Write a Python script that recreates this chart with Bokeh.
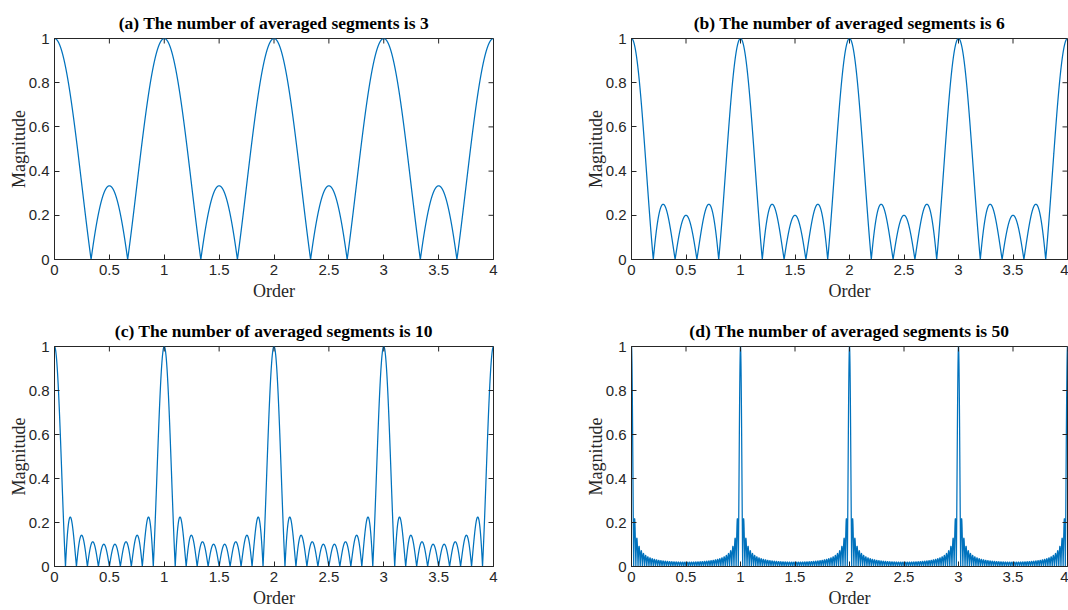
import numpy as np
from bokeh.plotting import figure
from bokeh.layouts import gridplot
from bokeh.models import FixedTicker, Range1d, Title
from bokeh.embed import file_html
from bokeh.resources import INLINE

# ---- data ----
panel_labels = ["(a)", "(b)", "(c)", "(d)"]
segments = [3, 6, 10, 50]          # number in each title
lobe_n = [3, 5, 10, 50]
order_ticks = [0, 0.5, 1, 1.5, 2, 2.5, 3, 3.5, 4]
magnitude_ticks = [0, 0.2, 0.4, 0.6, 0.8, 1]
order_min, order_max = 0, 4
mag_min, mag_max = 0, 1

# order axis sampling
order = np.linspace(order_min, order_max, 16001)


def averaged_magnitude(n, x):
    # magnitude response of averaging n segments (periodic sinc / Dirichlet kernel)
    s = np.sin(np.pi * x)
    num = np.sin(n * np.pi * x)
    with np.errstate(divide="ignore", invalid="ignore"):
        r = np.abs(num / (n * s))
    r[np.isclose(s, 0, atol=1e-12)] = 1.0
    return r


AX = "#262626"
BLUE = "#0072BD"
SERIF = "Liberation Serif"
SANS = "Liberation Sans"
TICK = 5

# per panel frame borders: (left, right, top, bottom)
borders = [
    (54, 41, 38, 46),
    (96, 1, 38, 46),
    (54, 41, 41, 43),
    (97, 1, 41, 43),
]
W, H = 534, 305

figs = []
for i, (lab, n, k) in enumerate(zip(panel_labels, segments, lobe_n)):
    bl, br, bt, bb = borders[i]
    p = figure(width=W, height=H,
               output_backend="svg", toolbar_location=None,
               x_range=Range1d(order_min, order_max), y_range=Range1d(mag_min, mag_max),
               min_border_left=bl, min_border_right=br,
               min_border_top=bt, min_border_bottom=bb,
               x_axis_label="Order", y_axis_label="Magnitude")
    p.title = None
    p.add_layout(Title(text=f"{lab} The number of averaged segments is {n}",
                       text_font=SERIF, text_font_size="17.5px", text_font_style="bold",
                       text_color="black", align="center", standoff=11), "above")
    p.line(order, averaged_magnitude(k, order), line_color=BLUE, line_width=1.25)

    # inward ticks on the top and right edges of the box
    fw = W - bl - br
    fh = H - bt - bb
    dy = TICK / fh * (mag_max - mag_min)
    dx = TICK / fw * (order_max - order_min)
    p.segment(x0=order_ticks, y0=[mag_max] * len(order_ticks),
              x1=order_ticks, y1=[mag_max - dy] * len(order_ticks),
              line_color=AX, line_width=1)
    p.segment(x0=[order_max] * len(magnitude_ticks), y0=magnitude_ticks,
              x1=[order_max - dx] * len(magnitude_ticks), y1=magnitude_ticks,
              line_color=AX, line_width=1)

    p.xgrid.visible = False
    p.ygrid.visible = False
    p.outline_line_color = AX
    p.outline_line_width = 1
    p.background_fill_color = "white"
    p.border_fill_color = "white"

    xa = p.xaxis[0]
    ya = p.yaxis[0]
    xa.ticker = FixedTicker(ticks=order_ticks)
    ya.ticker = FixedTicker(ticks=magnitude_ticks)
    ya.major_label_overrides = {0: "0", 1: "1"}
    xa.major_label_overrides = {0: "0", 1: "1", 2: "2", 3: "3", 4: "4"}
    for ax in (xa, ya):
        ax.axis_line_color = AX
        ax.major_tick_line_color = AX
        ax.major_tick_in = TICK
        ax.major_tick_out = 0
        ax.minor_tick_line_color = None
        ax.major_label_text_font = SANS
        ax.major_label_text_font_size = "15px"
        ax.major_label_text_color = AX
        ax.axis_label_text_font = SERIF
        ax.axis_label_text_font_size = "18px"
        ax.axis_label_text_font_style = "normal"
        ax.axis_label_text_color = AX
        ax.major_label_standoff = 5
    xa.axis_label_standoff = 3
    ya.axis_label_standoff = -3
    figs.append(p)

grid = gridplot([[figs[0], figs[1]], [figs[2], figs[3]]], toolbar_location=None)

open("out.html", "w").write(file_html(grid, INLINE))
